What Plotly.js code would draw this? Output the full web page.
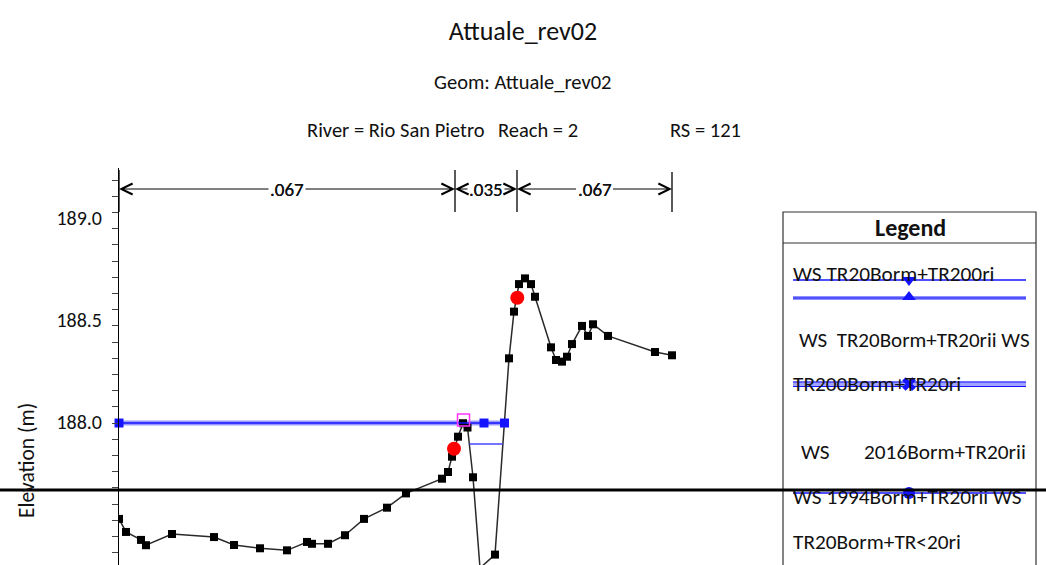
<!DOCTYPE html>
<html>
<head>
<meta charset="utf-8">
<script src="https://cdn.plot.ly/plotly-3.0.1.min.js"></script>
<style>html,body{margin:0;padding:0;background:#fff;overflow:hidden}#chart{width:1046px;height:565px}</style>
</head>
<body>
<div id="chart"></div>
<script>
// ---- data ----
const groundStation = [0.0, 0.7, 2.2, 2.7, 5.3, 9.5, 11.5, 14.1, 16.8, 18.8, 19.3, 20.9, 22.6, 24.5, 26.8, 28.7, 32.3, 32.9, 33.3, 33.9, 34.4, 34.85, 35.4, 36.1, 37.6, 39.0, 39.5, 40.0, 40.6, 41.2, 41.6, 43.2, 43.7, 44.3, 44.8, 45.3, 46.3, 46.9, 47.4, 48.9, 53.6, 55.3];
const groundElev = [187.525, 187.461, 187.422, 187.396, 187.451, 187.436, 187.397, 187.381, 187.371, 187.412, 187.403, 187.403, 187.445, 187.525, 187.580, 187.650, 187.722, 187.755, 187.830, 187.928, 187.994, 187.973, 187.729, 187.284, 187.350, 188.312, 188.541, 188.676, 188.704, 188.676, 188.614, 188.366, 188.304, 188.296, 188.320, 188.382, 188.471, 188.422, 188.479, 188.422, 188.343, 188.327];
const bankStation = [33.5, 39.83];
const bankElev = [187.869, 188.609];
const wsStation = [0.0, 36.5, 38.55];
const wsElev = [187.995, 187.995, 187.995];
const wsLowStation = [35.03, 38.39];
const wsLowElev = [187.892, 187.892];
const critStation = [34.45];
const critElev = [188.01];
const nBreaks = [0.0, 33.6, 39.8, 55.3];
const nValues = ['.067', '.035', '.067'];
const yTickVals = [188.0, 188.5, 189.0];
const yTickText = ['188.0', '188.5', '189.0'];
const legendTitle = 'Legend';
const legendTexts = ['WS TR20Borm+TR200ri', 'WS&nbsp;&nbsp;TR20Borm+TR20rii WS', 'TR200Borm+TR20ri', 'WS', '2016Borm+TR20rii', 'WS 1994Borm+TR20rii WS', 'TR20Borm+TR&lt;20ri'];
const legendSymbols = ['triangle-down', 'triangle-up', 'x', 'circle'];
const titleText = 'Attuale_rev02';
const geomText = 'Geom: Attuale_rev02';
const riverText = 'River = Rio San Pietro';
const reachText = 'Reach = 2';
const rsText = 'RS = 121';
const yTitle = 'Elevation (m)';

// ---- layout helpers ----
const W = 1046, H = 565;
const FONT = 'Carlito, Calibri, Lato, sans-serif';
const px = x => x / W;
const py = y => 1 - y / H;
const BLUE = '#1414ff';

const traces = [
  {x: wsStation, y: wsElev, mode: 'lines', line: {color: 'rgba(70,70,255,0.55)', width: 5}, hoverinfo: 'skip', showlegend: false},
  {x: groundStation, y: groundElev, mode: 'lines+markers', line: {color: '#2a2a2a', width: 1.5},
   marker: {symbol: 'square', size: 8, color: '#000'}, showlegend: false},
  {x: wsStation, y: wsElev, mode: 'lines+markers', line: {color: BLUE, width: 1.6}, cliponaxis: false,
   marker: {symbol: 'square', size: 9, color: BLUE}, showlegend: false},
  {x: wsLowStation, y: wsLowElev, mode: 'lines', line: {color: 'rgba(50,50,255,0.9)', width: 1.5}, showlegend: false},
  {x: critStation, y: critElev, mode: 'markers', marker: {symbol: 'square-open', size: 12, color: '#ff33ff', line: {width: 1.5}}, showlegend: false},
  {x: bankStation, y: bankElev, mode: 'markers', marker: {symbol: 'circle', size: 14, color: '#ff0000'}, showlegend: false}
];
// legend sample markers on a pixel overlay
const legendMarkerY = [280, 297, 384, 493];
legendSymbols.forEach((sym, i) => {
  traces.push({x: [909], y: [legendMarkerY[i]], xaxis: 'x2', yaxis: 'y2', mode: 'markers', cliponaxis: false,
    marker: {symbol: sym, size: 12, color: BLUE, line: {width: 0}}, showlegend: false, hoverinfo: 'skip'});
});

const shapes = [];
nBreaks.forEach((s, i) => {
  shapes.push({type: 'line', xref: 'x', yref: 'paper', x0: s, x1: s, y0: py(212), y1: py(i === nBreaks.length - 1 ? 172 : 170), line: {color: '#000', width: 1.3}});
});
const lg = (y, color, width) => ({type: 'line', layer: 'below', xref: 'paper', yref: 'paper', x0: px(793), x1: px(1026), y0: py(y), y1: py(y), line: {color, width}});
shapes.push({type: 'rect', xref: 'paper', yref: 'paper', x0: px(783), x1: px(1036), y0: py(212), y1: py(620), line: {color: '#333', width: 1.2}});
shapes.push({type: 'line', xref: 'paper', yref: 'paper', x0: px(783), x1: px(1036), y0: py(243), y1: py(243), line: {color: '#333', width: 1.2}});
shapes.push(lg(280, BLUE, 1.5));
shapes.push(lg(298, 'rgba(70,70,255,0.6)', 4));
shapes.push(lg(298, BLUE, 1.2));
shapes.push(lg(384, 'rgba(70,70,255,0.5)', 5));
shapes.push(lg(382, BLUE, 1));
shapes.push(lg(386.5, BLUE, 1));
shapes.push(lg(493, BLUE, 1.5));
shapes.push({type: 'line', xref: 'paper', yref: 'paper', x0: 0, x1: 1, y0: py(490), y1: py(490), line: {color: '#000', width: 3}});

const annotations = [];
for (let i = 0; i < nValues.length; i++) {
  const mid = (nBreaks[i] + nBreaks[i + 1]) / 2;
  [nBreaks[i], nBreaks[i + 1]].forEach(target => {
    annotations.push({xref: 'x', yref: 'paper', x: target, y: py(189), axref: 'x', ayref: 'paper', ax: mid, ay: py(189),
      text: nValues[i], showarrow: true, arrowhead: 5, arrowsize: 2.2, arrowwidth: 1, arrowcolor: '#000',
      font: {family: FONT, size: 19, color: '#111'}, borderpad: 1});
  });
}
const txt = (text, x, y, size, opts = {}) => Object.assign({xref: 'paper', yref: 'paper', x: px(x), y: py(y), text, showarrow: false,
  xanchor: 'left', yanchor: 'middle', font: {family: FONT, size, color: '#111'}}, opts);
annotations.push(txt(geomText, 523, 82, 20.5, {xanchor: 'center'}));
annotations.push(txt(riverText, 305, 130, 20.5));
annotations.push(txt(reachText, 496, 130, 20.5));
annotations.push(txt(rsText, 668, 130, 20.5));
annotations.push(txt(yTitle, 27, 461, 21.5, {xanchor: 'center', textangle: -90}));
annotations.push(txt('<b>' + legendTitle + '</b>', 910, 227, 24, {xanchor: 'center'}));
annotations.push(txt(legendTexts[0], 791, 274, 21.3));
annotations.push(txt(legendTexts[1], 797, 340, 21));
annotations.push(txt(legendTexts[2], 791, 384, 21.3));
annotations.push(txt(legendTexts[3], 799, 452, 21.3));
annotations.push(txt(legendTexts[4], 1028, 452, 21.3, {xanchor: 'right'}));
annotations.push(txt(legendTexts[5], 791, 497, 21.3));
annotations.push(txt(legendTexts[6], 791, 542, 21.3));

const layout = {
  width: W, height: H,
  margin: {l: 0, r: 0, t: 0, b: 0},
  paper_bgcolor: '#fff', plot_bgcolor: 'rgba(0,0,0,0)',
  font: {family: FONT, color: '#111'},
  title: {text: titleText, x: 0.5, xanchor: 'center', y: py(31), yanchor: 'middle', font: {family: FONT, size: 26, color: '#111'}},
  showlegend: false,
  xaxis: {domain: [px(119), px(769)], range: [0, 65], showline: false, showticklabels: false, ticks: '', showgrid: false, zeroline: false, fixedrange: true},
  yaxis: {domain: [0, py(168)], range: [188.0 - 143 / 204, 188.0 + 254 / 204], showline: true, linecolor: '#000', linewidth: 1,
    tickmode: 'array', tickvals: yTickVals, ticktext: yTickText, ticks: '', ticklabelstandoff: 12,
    tickfont: {family: FONT, size: 20, color: '#111'}, showgrid: false, zeroline: false, fixedrange: true,
    minor: {ticks: 'outside', ticklen: 6, tickcolor: '#444', tickwidth: 1, tickmode: 'linear', tick0: 189.027, dtick: 0.0794, showgrid: false}},
  xaxis2: {domain: [0, 1], range: [0, W], visible: false, anchor: 'y2', fixedrange: true},
  yaxis2: {domain: [0, 1], range: [H, 0], visible: false, anchor: 'x2', fixedrange: true},
  shapes, annotations
};
Plotly.newPlot('chart', traces, layout, {displayModeBar: false, staticPlot: true});
</script>
</body>
</html>
